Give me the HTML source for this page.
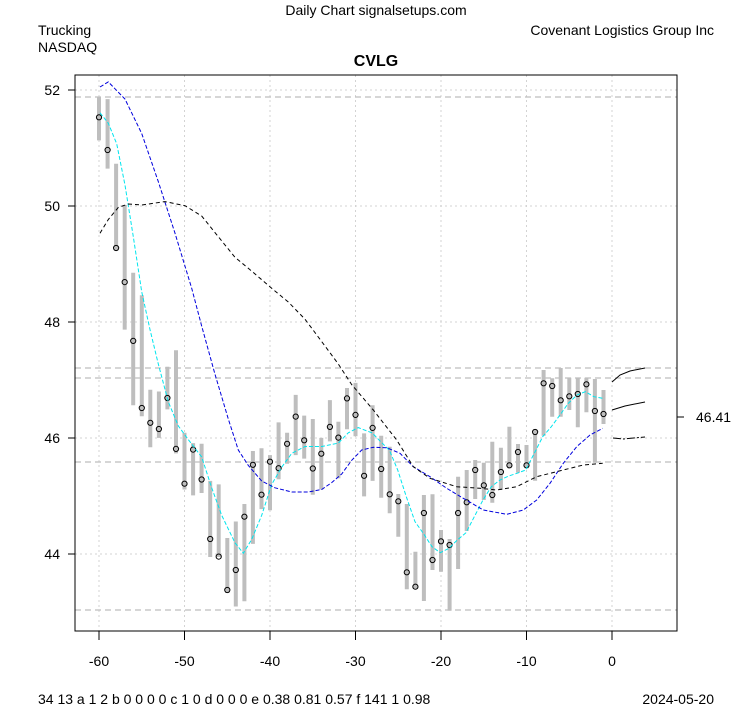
<!DOCTYPE html><html><head><style>body{margin:0;background:#fff}svg{display:block;font-family:"Liberation Sans",Arial,sans-serif}</style></head><body>
<svg width="753" height="708" viewBox="0 0 753 708" xmlns="http://www.w3.org/2000/svg">
<rect width="753" height="708" fill="#fff"/>
<g stroke="#d3d3d3" stroke-dasharray="2,3" stroke-width="1">
<line x1="99" y1="75" x2="99" y2="631"/><line x1="184.5" y1="75" x2="184.5" y2="631"/><line x1="270" y1="75" x2="270" y2="631"/><line x1="355.5" y1="75" x2="355.5" y2="631"/><line x1="441" y1="75" x2="441" y2="631"/><line x1="526.5" y1="75" x2="526.5" y2="631"/><line x1="612" y1="75" x2="612" y2="631"/>
<line x1="75" y1="90" x2="677" y2="90"/><line x1="75" y1="206" x2="677" y2="206"/><line x1="75" y1="322" x2="677" y2="322"/><line x1="75" y1="438" x2="677" y2="438"/><line x1="75" y1="554" x2="677" y2="554"/>
</g>
<g stroke="#bebebe" stroke-dasharray="6,4" stroke-width="1.2">
<line x1="75" y1="97" x2="677" y2="97"/><line x1="75" y1="368" x2="677" y2="368"/><line x1="75" y1="378" x2="677" y2="378"/><line x1="75" y1="462" x2="677" y2="462"/><line x1="75" y1="610" x2="677" y2="610"/>
</g>
<path stroke="#bebebe" stroke-width="4" fill="none" d="M99 97.4V140.4M107.6 99.1V168.6M116.1 163.8V250.4M124.7 205V329.6M133.2 272.8V405.2M141.8 295.2V416.2M150.3 389.8V447.2M158.9 391.5V437.9M167.4 366.7V409.4M176 350.2V453.4M184.5 432.8V489.5M193.1 443.1V495.4M201.6 443.8V493M210.2 480.9V557M218.7 484.4V557M227.3 538V593M235.8 521.5V606.5M244.4 504V601.3M252.9 451V543.9M261.5 448.2V509.1M270 455.1V510.2M278.6 422.4V479.2M287.1 432.8V463.7M295.7 394.9V455.1M304.2 415.6V458.6M312.8 419V494.7M321.3 437.9V489.5M329.9 400.1V441.4M338.4 421.8V478.2M347 388V429.3M355.5 382.9V436.2M364.1 433.4V496.4M372.6 405.2V480.9M381.2 435.7V497.7M389.7 446.7V513.3M398.3 494V536.7M406.8 504V589.3M415.4 551.7V588.3M423.9 495V601M432.5 494.3V570M441 530V571.7M449.6 539V610.7M458.1 476.7V569M466.7 470V531M475.2 460V499M483.8 462.7V500M492.3 441.7V502.7M500.9 447.7V490M509.4 426.7V468.3M518 444V472.7M526.5 445V468.3M535.1 429.3V480.7M543.6 370V435.7M552.2 378.3V416.7M560.7 368V416.7M569.3 377.7V410M577.8 378.3V427.3M586.4 377.7V412.3M594.9 379V462.7M603.5 390V424"/>
<g fill="none" stroke="#000" stroke-width="1">
<circle cx="99" cy="117.3" r="2.6"/><circle cx="107.6" cy="150" r="2.6"/><circle cx="116.1" cy="248" r="2.6"/><circle cx="124.7" cy="282.1" r="2.6"/><circle cx="133.2" cy="340.9" r="2.6"/><circle cx="141.8" cy="408" r="2.6"/><circle cx="150.3" cy="422.8" r="2.6"/><circle cx="158.9" cy="429" r="2.6"/><circle cx="167.4" cy="398" r="2.6"/><circle cx="176" cy="448.9" r="2.6"/><circle cx="184.5" cy="483.7" r="2.6"/><circle cx="193.1" cy="449.6" r="2.6"/><circle cx="201.6" cy="479.5" r="2.6"/><circle cx="210.2" cy="539" r="2.6"/><circle cx="218.7" cy="556.6" r="2.6"/><circle cx="227.3" cy="590" r="2.6"/><circle cx="235.8" cy="570" r="2.6"/><circle cx="244.4" cy="516.7" r="2.6"/><circle cx="252.9" cy="464.8" r="2.6"/><circle cx="261.5" cy="494.7" r="2.6"/><circle cx="270" cy="461.7" r="2.6"/><circle cx="278.6" cy="468.2" r="2.6"/><circle cx="287.1" cy="443.8" r="2.6"/><circle cx="295.7" cy="416.6" r="2.6"/><circle cx="304.2" cy="440.3" r="2.6"/><circle cx="312.8" cy="468.5" r="2.6"/><circle cx="321.3" cy="453.7" r="2.6"/><circle cx="329.9" cy="426.9" r="2.6"/><circle cx="338.4" cy="437.6" r="2.6"/><circle cx="347" cy="398.4" r="2.6"/><circle cx="355.5" cy="414.9" r="2.6"/><circle cx="364.1" cy="475.8" r="2.6"/><circle cx="372.6" cy="427.9" r="2.6"/><circle cx="381.2" cy="469" r="2.6"/><circle cx="389.7" cy="494.3" r="2.6"/><circle cx="398.3" cy="501.3" r="2.6"/><circle cx="406.8" cy="572.3" r="2.6"/><circle cx="415.4" cy="586.7" r="2.6"/><circle cx="423.9" cy="513" r="2.6"/><circle cx="432.5" cy="560" r="2.6"/><circle cx="441" cy="541.3" r="2.6"/><circle cx="449.6" cy="545" r="2.6"/><circle cx="458.1" cy="513" r="2.6"/><circle cx="466.7" cy="502.3" r="2.6"/><circle cx="475.2" cy="470" r="2.6"/><circle cx="483.8" cy="485.3" r="2.6"/><circle cx="492.3" cy="495" r="2.6"/><circle cx="500.9" cy="472" r="2.6"/><circle cx="509.4" cy="465.3" r="2.6"/><circle cx="518" cy="452" r="2.6"/><circle cx="526.5" cy="465.3" r="2.6"/><circle cx="535.1" cy="432" r="2.6"/><circle cx="543.6" cy="383.3" r="2.6"/><circle cx="552.2" cy="386" r="2.6"/><circle cx="560.7" cy="400.3" r="2.6"/><circle cx="569.3" cy="396.3" r="2.6"/><circle cx="577.8" cy="394" r="2.6"/><circle cx="586.4" cy="384.3" r="2.6"/><circle cx="594.9" cy="411" r="2.6"/><circle cx="603.5" cy="414" r="2.6"/>
</g>
<polyline fill="none" stroke="#00e5ee" stroke-width="1" stroke-dasharray="4,2" points="100,112.8 108.3,123.2 116.7,143.8 125,185.1 133.3,236.7 141.7,291.7 150,329.6 158.3,364 168.3,401.8 178.3,425.9 188.3,439.6 201.7,457 211.7,487.8 221.7,515.3 235,542.8 243.3,553.2 251.7,539.4 261.7,515.3 271.7,484.4 281.7,467.2 291.7,453.4 305,446.5 321.7,446.5 338.3,443.1 348.3,432.8 358.3,427.6 372.3,433 380.7,441.7 389.3,450 397.7,470 406.3,496.7 415,521.7 423.3,533.3 432,546.7 440.3,552.7 449,548.3 457.3,540 466,532.7 474.3,516.7 483,500 491.3,486.7 500,480 508.7,476 517,473.3 525.7,470 534.3,453.3 542.7,436.7 551.3,426.7 560,415 568.3,403.3 577,395 585.3,391.7 594,396.7 602.7,398.3"/>
<polyline fill="none" stroke="#0000dd" stroke-width="1" stroke-dasharray="4,2" points="100,87 108.3,81.9 125,99.1 141.7,133.5 158.3,181.6 175,233.2 191.7,288.3 201.7,326.1 215,374.3 228.3,419 238.3,450 248.3,465.4 261.7,481 275,487.8 291.7,492 308.3,492 321.7,489.5 331.7,482.6 341.7,474 351.7,460.3 361.7,450 373.3,447.3 386.7,447.7 400,453.3 413.3,466.7 430,476.7 446.7,488.3 463.3,498.3 483.3,510 506.7,514.3 523.3,510 536.7,500 550,483.3 563.3,463.3 576.7,446.7 590,435 602.7,428.3"/>
<polyline fill="none" stroke="#000" stroke-width="1" stroke-dasharray="4,3" points="100,233.2 108.3,219.5 118.3,207.4 128.3,204 141.7,205 165,201.6 185,205.7 201.7,216 218.3,236.7 235,257.3 251.7,271.1 271.7,288.3 288.3,302 305,319.2 321.7,341.6 338.3,364 351.7,384.6 373.3,410 396.7,440 413.3,466.7 430,478.3 456.7,486.7 480,488.3 496.7,490 516.7,486.7 536.7,476.7 563.3,470 583.3,465 602.7,463.3"/>
<polyline points="612,382 620,375 630,371 645,368" fill="none" stroke="#000"/>
<polyline points="612,410 625,406 645,402" fill="none" stroke="#000"/>
<polyline points="613,438 623,439 645,437" fill="none" stroke="#000" stroke-dasharray="8,2,2,2"/>
<rect x="75" y="75" width="602" height="556" fill="none" stroke="#000"/>
<g stroke="#000"><line x1="99" y1="631" x2="612" y2="631"/>
<line x1="99" y1="631" x2="99" y2="640"/><line x1="184.5" y1="631" x2="184.5" y2="640"/><line x1="270" y1="631" x2="270" y2="640"/><line x1="355.5" y1="631" x2="355.5" y2="640"/><line x1="441" y1="631" x2="441" y2="640"/><line x1="526.5" y1="631" x2="526.5" y2="640"/><line x1="612" y1="631" x2="612" y2="640"/>
<line x1="75" y1="90" x2="68" y2="90"/><line x1="75" y1="206" x2="68" y2="206"/><line x1="75" y1="322" x2="68" y2="322"/><line x1="75" y1="438" x2="68" y2="438"/><line x1="75" y1="554" x2="68" y2="554"/>
<line x1="677" y1="417" x2="684" y2="417"/></g>
<g font-size="14" fill="#000">
<g text-anchor="middle"><text x="99" y="666">-60</text><text x="184.5" y="666">-50</text><text x="270" y="666">-40</text><text x="355.5" y="666">-30</text><text x="441" y="666">-20</text><text x="526.5" y="666">-10</text><text x="612" y="666">0</text>
<text x="376" y="15">Daily Chart signalsetups.com</text><text x="376" y="66" font-weight="bold" font-size="16">CVLG</text></g>
<g text-anchor="end"><text x="60" y="95">52</text><text x="60" y="211">50</text><text x="60" y="327">48</text><text x="60" y="443">46</text><text x="60" y="559">44</text>
<text x="714" y="35">Covenant Logistics Group Inc</text><text x="714" y="704">2024-05-20</text></g>
<text x="38" y="35">Trucking</text><text x="38" y="52">NASDAQ</text>
<text x="696" y="422">46.41</text>
<text x="38" y="704">34 13 a 1 2 b 0 0 0 0 c 1 0 d 0 0 0 e 0.38 0.81 0.57 f 141 1 0.98</text>
</g>
</svg>
</body></html>
